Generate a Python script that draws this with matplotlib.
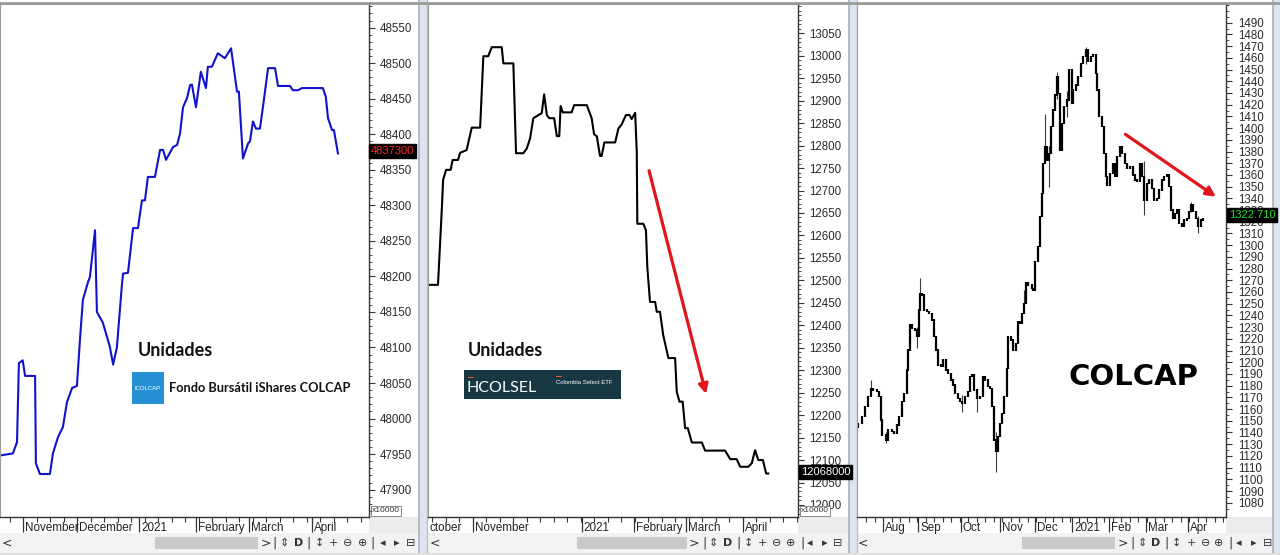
import matplotlib
matplotlib.use("Agg")
import matplotlib.pyplot as plt
import numpy as np
from matplotlib.patches import Rectangle, FancyArrowPatch
from matplotlib.transforms import offset_copy

plt.rcParams['font.family'] = ['Liberation Sans', 'DejaVu Sans']

# ---------------- data ----------------
# Panel 1: Fondo Bursatil iShares COLCAP (units, x10000) vs trading day
fund_day = [0, 4.8, 6.3, 7.0, 8.4, 9.3, 13.0, 13.3, 14.8, 18.5,
            19.6, 21.5, 23.3, 24.8, 26.7, 28.5, 29.6, 30.7, 32.6, 33.3,
            35.2, 35.9, 38.1, 40.7, 41.9, 43.3, 45.2, 45.6, 47.4, 49.3,
            51.1, 52.6, 53.7, 54.8, 57.4, 59.3, 60.4, 61.5, 64.1, 65.6,
            66.7, 67.8, 69.3, 70.4, 71.1, 72.6, 74.4, 76.3, 77.0, 78.5,
            80.7, 83.3, 85.6, 87.8, 88.5, 90.0, 91.9, 92.6, 93.7, 94.8,
            96.3, 97.4, 99.3, 101.9, 103.0, 107.4, 108.5, 110.4, 111.9, 119.6,
            120.7, 121.5, 123.0, 123.7, 125.2]
fund_units = [47948, 47951, 47967, 48078, 48082, 48060, 48060, 47937, 47922, 47922,
              47951, 47974, 47988, 48023, 48043, 48046, 48110, 48167, 48192, 48199,
              48265, 48150, 48135, 48101, 48076, 48100, 48190, 48204, 48205, 48268,
              48268, 48307, 48307, 48340, 48340, 48378, 48378, 48364, 48382, 48385,
              48401, 48438, 48451, 48469, 48470, 48438, 48488, 48465, 48495, 48495,
              48514, 48507, 48521, 48460, 48460, 48366, 48387, 48390, 48418, 48408,
              48408, 48438, 48493, 48493, 48468, 48468, 48462, 48462, 48465, 48465,
              48453, 48423, 48406, 48406, 48373]
fund_months = ["November", "December", "2021", "February", "March", "April"]
fund_month_day = [8.6, 28.6, 51.6, 72.6, 92.3, 115.4]
fund_last = "4837300"

# Panel 2: HCOLSEL (units, x10000)
etf_day = [0, 3.7, 5.1, 5.6, 6.7, 8.4, 9.1, 11.1, 11.9, 14.3,
           16.2, 19.3, 20.5, 22.3, 23.6, 27.3, 27.9, 31.6, 32.6, 35.3,
           36.6, 37.8, 39.0, 40.9, 42.1, 43.0, 44.0, 44.9, 46.7, 47.7,
           48.6, 49.1, 49.9, 53.2, 54.1, 58.8, 60.6, 61.5, 62.5, 63.7,
           64.3, 65.3, 69.3, 70.5, 71.7, 73.3, 74.6, 75.4, 76.7, 77.3,
           77.5, 79.7, 80.7, 81.2, 82.2, 84.1, 84.7, 85.9, 87.1, 89.0,
           91.5, 92.1, 93.1, 94.3, 95.2, 96.2, 97.7, 101.4, 102.6, 110.0,
           111.9, 114.3, 115.6, 118.6, 119.9, 121.1, 122.3, 124.0, 125.2, 126.0]
etf_units = [12490, 12490, 12657, 12724, 12746, 12746, 12768, 12768, 12784, 12790,
             12840, 12840, 12999, 12999, 13019, 13019, 12983, 12983, 12783, 12783,
             12794, 12816, 12861, 12868, 12872, 12914, 12868, 12861, 12861, 12821,
             12821, 12888, 12874, 12874, 12890, 12890, 12861, 12825, 12821, 12777,
             12777, 12807, 12807, 12838, 12847, 12868, 12868, 12859, 12873, 12786,
             12626, 12626, 12612, 12530, 12452, 12452, 12430, 12430, 12378, 12327,
             12327, 12252, 12230, 12230, 12171, 12171, 12139, 12139, 12121, 12121,
             12102, 12102, 12085, 12085, 12093, 12122, 12100, 12100, 12070, 12070]
etf_months = ["ctober", "November", "2021", "February", "March", "April"]
etf_month_day = [-1.0, 16.6, 56.9, 76.3, 95.4, 116.5]
etf_last = "12068000"
etf_arrow_start = (81.6, 12750)
etf_arrow_end = (103.2, 12241)

# Panel 3: COLCAP index daily candles
colcap_day = [0.8, 2.8, 4.7, 6.6, 8.2, 9.6, 11.6, 12.9, 14.1, 14.9,
              16.9, 18.4, 20.4, 21.9, 23.4, 24.7, 26.3, 27.8, 29.2, 30.2,
              31.2, 32.5, 34.1, 35.3, 36.5, 37.2, 38.4, 39.6, 41.0, 42.4,
              43.9, 45.1, 46.5, 47.8, 49.4, 50.8, 52.2, 53.7, 55.3, 56.6,
              57.6, 59.2, 60.6, 61.9, 63.5, 65.1, 66.5, 67.8, 69.0, 70.6,
              72.4, 73.9, 75.3, 76.9, 78.2, 79.6, 80.8, 81.6, 82.8, 84.1,
              85.5, 86.6, 88.1, 89.0, 90.4, 91.9, 93.4, 94.5, 95.9, 97.2,
              98.2, 99.4, 100.8, 102.8, 103.7, 104.7, 106.3, 107.6, 108.6, 109.6,
              110.6, 111.6, 112.9, 114.1, 115.5, 116.5, 117.5, 118.4, 119.4, 120.8,
              121.8, 123.4, 124.9, 126.3, 127.2, 128.8, 130.2, 131.6, 133.1, 134.7,
              136.1, 137.5, 139.0, 140.6, 141.4, 142.5, 143.9, 145.3, 146.5, 147.2,
              148.8, 150.4, 151.8, 153.1, 154.7, 156.1, 157.6, 159.0, 160.6, 162.2,
              163.5, 164.9, 166.5, 167.5, 168.8, 170.4, 171.9, 173.4, 174.7, 176.3,
              177.6, 179.2, 180.6, 182.2, 183.5, 184.5, 185.7, 187.1, 188.4, 189.6,
              191.0, 192.4, 193.9, 195.3, 196.6, 197.8, 199.4, 200.8, 202.2, 203.7]
colcap_close = [1147.8, 1153.5, 1162.0, 1170.5, 1177.7, 1176.3, 1174.8, 1170.5, 1150.6, 1137.8,
                1133.5, 1142.0, 1140.6, 1139.3, 1146.3, 1153.5, 1166.3, 1173.4, 1193.3, 1210.4,
                1231.8, 1228.9, 1227.5, 1221.8, 1244.6, 1258.9, 1257.4, 1244.6, 1243.1, 1241.8,
                1236.0, 1221.8, 1210.4, 1197.6, 1196.2, 1201.9, 1193.3, 1190.5, 1184.8, 1180.5,
                1173.4, 1169.2, 1166.3, 1164.9, 1170.5, 1174.8, 1187.6, 1189.0, 1176.3, 1169.2,
                1170.5, 1187.6, 1184.8, 1179.1, 1177.7, 1162.0, 1133.5, 1123.5, 1136.4, 1147.8,
                1156.4, 1170.5, 1194.8, 1221.8, 1219.0, 1210.4, 1216.1, 1234.6, 1233.2, 1241.8,
                1250.3, 1268.0, 1266.0, 1263.1, 1261.7, 1285.8, 1298.7, 1324.3, 1344.3, 1369.9,
                1384.1, 1372.7, 1378.4, 1401.2, 1415.4, 1428.2, 1443.9, 1429.7, 1381.3, 1404.1,
                1418.3, 1424.0, 1449.6, 1421.2, 1432.5, 1436.8, 1443.9, 1455.3, 1461.0, 1466.7,
                1456.7, 1461.0, 1462.4, 1446.8, 1432.5, 1409.8, 1401.2, 1378.4, 1358.5, 1351.4,
                1361.4, 1369.9, 1358.5, 1375.5, 1384.1, 1378.4, 1369.9, 1365.6, 1367.0, 1359.9,
                1355.6, 1354.2, 1369.9, 1358.5, 1338.6, 1352.8, 1355.6, 1348.5, 1338.6, 1340.0,
                1347.1, 1355.6, 1358.5, 1359.9, 1349.9, 1330.0, 1322.9, 1327.2, 1330.0, 1318.6,
                1315.8, 1321.5, 1322.9, 1328.6, 1334.3, 1328.6, 1322.9, 1315.8, 1321.5, 1322.7]
colcap_first_open = 1144.0
colcap_wick_day = [8.2, 16.9, 35.3, 37.2, 61.9, 70.6, 81.6, 98.2, 110.6, 112.9,
                   117.5, 123.4, 134.7, 168.8, 196.6, 200.8]
colcap_wick_low = [1175.0, 1130.7, 1212.0, 1255.0, 1157.7, 1157.7, 1106.5, 1250.0, 1372.0, 1350.0,
                   1425.0, 1409.7, 1455.0, 1325.7, 1328.0, 1310.1]
colcap_wick_high = [1184.6, 1140.0, 1230.0, 1271.7, 1172.0, 1177.0, 1140.0, 1262.0, 1411.8, 1385.0,
                    1448.2, 1432.0, 1469.0, 1372.0, 1337.0, 1325.0]
colcap_months = ["Aug", "Sep", "Oct", "Nov", "Dec", "2021", "Feb", "Mar", "Apr"]
colcap_month_day = [15.5, 36.1, 61.0, 84.1, 104.7, 126.6, 148.2, 169.8, 194.9]
colcap_last = "1322.710"
colcap_arrow_start = (156.5, 1396)
colcap_arrow_end = (212.4, 1340)

# ---------------- figure ----------------
W, H = 1280, 555
fig = plt.figure(figsize=(12.8, 5.55), dpi=100)
fig.patch.set_facecolor('white')

bg = fig.add_axes([0, 0, 1, 1])
bg.set_xlim(0, W)
bg.set_ylim(H, 0)
bg.axis('off')


def rect(x0, y0, x1, y1, color, **kw):
    bg.add_patch(Rectangle((x0, y0), x1 - x0, y1 - y0, facecolor=color,
                           edgecolor=kw.pop('ec', 'none'), lw=kw.pop('lw', 0), **kw))


# panel frames: (left of plot, right of plot/axis, right of panel)
panels = [(0, 369, 418), (428, 798, 848), (857, 1226, 1272)]
for (pl, pr, pe) in panels:
    rect(pr, 517, pe, 533, '#ececec')          # corner below y labels
    rect(pl, 533, pe, 553, '#f2f2f2')          # scroll bar row
# separators
for sx in (418, 848, 1272):
    rect(sx, 0, sx + 10 if sx < 1272 else 1280, 555, '#dde4ee')
    bg.plot([sx + 1, sx + 1], [0, 555], color='#a9b3c2', lw=1.2)
    if sx < 1272:
        bg.plot([sx + 9, sx + 9], [0, 555], color='#b8c1ce', lw=1.0)
bg.plot([0, 1280], [2.5, 2.5], color='#9c9c9c', lw=2.0)
bg.plot([0, 1280], [554, 554], color='#e0e0e0', lw=1.5)

# scroll bars + toolbar glyphs
thumbs = [(155, 258), (577, 687), (1022, 1115)]
tool_x = [
    [7, 266, 275, 284, 299, 309, 319, 333, 348, 363, 373, 383, 397, 411],
    [435, 694, 705, 713, 728, 738, 748, 762, 777, 791, 802, 810, 825, 838],
    [863, 1123, 1133, 1142, 1156, 1167, 1176, 1191, 1206, 1219, 1230, 1239, 1254, 1268],
]
glyphs = ['<', '>', '|', '⇕', 'D', '|', '↕', '+', '⊖', '⊕', '|', '◂', '▸', '⊟']
for (t0, t1), xs in zip(thumbs, tool_x):
    rect(t0, 537, t1, 549, '#c9c9c9')
    for gx, g in zip(xs, glyphs):
        fs = 9 if g in '<>|' else 8
        bg.text(gx, 543, g, ha='center', va='center', fontsize=fs,
                color='#333333', family=['DejaVu Sans'],
                fontweight='bold' if g == 'D' else 'normal')

PLOT_TOP, PLOT_BOT = 4, 517


def make_axes(px0, px1):
    return fig.add_axes([px0 / W, 1 - PLOT_BOT / H, (px1 - px0) / W, (PLOT_BOT - PLOT_TOP) / H])


def style_axes(ax, xlim, ylim, ymajor, yminor, xminor, months, month_days):
    ax.set_xlim(*xlim)
    ax.set_ylim(*ylim)
    ax.set_facecolor('white')
    for s in ('left', 'top'):
        ax.spines[s].set_color('#9a9a9a')
        ax.spines[s].set_linewidth(0.8)
    for s in ('right', 'bottom'):
        ax.spines[s].set_color('#333333')
        ax.spines[s].set_linewidth(1.0)
    ax.yaxis.tick_right()
    ax.set_yticks(ymajor)
    ax.set_yticks(yminor, minor=True)
    ax.set_yticklabels([str(v) for v in ymajor])
    ax.tick_params(axis='y', which='major', direction='out', length=4, width=0.8,
                   color='#333333', labelsize=8.3, labelcolor='#2a2a2a', pad=4)
    ax.tick_params(axis='y', which='minor', direction='out', length=2.5, width=0.6,
                   color='#333333')
    # x: weekly small ticks + month separators
    seps = [d for d in month_days if xlim[0] <= d <= xlim[1]]
    ax.set_xticks(seps)
    ax.set_xticklabels([])
    ax.set_xticks(xminor, minor=True)
    ax.tick_params(axis='x', which='major', direction='out', length=11, width=0.9,
                   color='#333333')
    ax.tick_params(axis='x', which='minor', direction='out', length=3.5, width=0.8,
                   color='#333333')
    tr = offset_copy(ax.get_xaxis_transform(), fig=fig, x=2, y=-5, units='dots')
    for d, m in zip(month_days, months):
        ax.text(max(d, xlim[0]), 0, m, transform=tr, ha='left', va='top',
                fontsize=8.4, color='#222222', clip_on=False)


# ---- panel 1 ----
ax1 = make_axes(0, 369)
ax1.plot(fund_day, fund_units, color='#1212cc', lw=1.5, solid_joinstyle='round')
style_axes(ax1, (0, 136.7), (47861.5, 48583.3),
           np.arange(47900, 48551, 50), np.arange(47870, 48581, 10),
           np.arange(3.6, 136, 5.0), fund_months, fund_month_day)

# ---- panel 2 ----
ax2 = make_axes(428, 798)
ax2.plot(etf_day, etf_units, color='black', lw=1.5)
style_axes(ax2, (0, 137.0), (11973.2, 13115.2),
           np.arange(12000, 13051, 50), np.arange(11980, 13111, 10),
           np.arange(1.6, 137, 5.0), etf_months, etf_month_day)
ax2.add_patch(FancyArrowPatch(etf_arrow_start, etf_arrow_end, arrowstyle='-|>',
                              mutation_scale=14, lw=2.3, color='#e3161d'))

# ---- panel 3 ----
ax3 = make_axes(857, 1226)
opens = [colcap_first_open] + colcap_close[:-1]
lo = np.minimum(opens, colcap_close)
hi = np.maximum(opens, colcap_close)
ax3.vlines(colcap_wick_day, colcap_wick_low, colcap_wick_high, color='#3a3a3a', lw=0.8)
ax3.vlines(colcap_day, lo - 0.6, hi + 0.6, color='black', lw=1.6)
style_axes(ax3, (0, 217.0), (1067.8, 1506.0),
           np.arange(1080, 1491, 10), np.arange(1075, 1506, 5),
           np.arange(5.5, 217, 5.0), colcap_months, colcap_month_day)
ax3.tick_params(axis='y', which='major', labelsize=8.3, pad=5)
ax3.add_patch(FancyArrowPatch(colcap_arrow_start, colcap_arrow_end, arrowstyle='-|>',
                              mutation_scale=14, lw=2.3, color='#e3161d', clip_on=False))

# ---- last value boxes ----
def value_box(px, py, txt, fg):
    return fig.text(px / W, 1 - py / H, txt, ha='left', va='center', fontsize=8,
                    color=fg, family=['Liberation Sans'],
                    bbox=dict(boxstyle='square,pad=0.15', fc='black', ec='black'))

value_box(371, 151, fund_last, '#ff2424')
value_box(801, 472, etf_last, '#ffffff')
value_box(1229, 215, colcap_last, '#22dd22')

for x0 in (371, 800):
    fig.text((x0 + 1) / W, 1 - 511 / H, 'x10000', ha='left', va='center', fontsize=6,
             color='#333333',
             bbox=dict(boxstyle='square,pad=0.15', fc='white', ec='#777777', lw=0.6))

# ---- annotations ----
fig.text(138 / W, 1 - 351 / H, 'Unidades', ha='left', va='center', fontsize=13,
         fontweight='bold', family=['Lato', 'DejaVu Sans'], color='#111111')
fig.text(468 / W, 1 - 351 / H, 'Unidades', ha='left', va='center', fontsize=13,
         fontweight='bold', family=['Lato', 'DejaVu Sans'], color='#111111')

# iShares COLCAP logo
fig.patches.append(Rectangle((132 / W, 1 - 404 / H), 32 / W, 32 / H, transform=fig.transFigure,
                             facecolor='#2590d4', edgecolor='none'))
fig.text(148 / W, 1 - 388 / H, 'ICOLCAP', ha='center', va='center', fontsize=4.3,
         color='white', family=['Liberation Sans'])
fig.text(169 / W, 1 - 388 / H, 'Fondo Bursátil iShares COLCAP', ha='left', va='center',
         fontsize=9.2, fontweight='bold', family=['Lato', 'DejaVu Sans'], color='#111111')

# HCOLSEL logo
fig.patches.append(Rectangle((464 / W, 1 - 399 / H), 157 / W, 29 / H, transform=fig.transFigure,
                             facecolor='#173842', edgecolor='none'))
fig.patches.append(Rectangle((468 / W, 1 - 378 / H), 6 / W, 1.5 / H, transform=fig.transFigure,
                             facecolor='#e8562a', edgecolor='none'))
fig.patches.append(Rectangle((556 / W, 1 - 377 / H), 6 / W, 1.2 / H, transform=fig.transFigure,
                             facecolor='#e8562a', edgecolor='none'))
fig.text(467 / W, 1 - 388 / H, 'HCOLSEL', ha='left', va='center', fontsize=11.5,
         color='white', family=['Lato', 'DejaVu Sans'])
fig.text(556 / W, 1 - 383 / H, 'Colombia Select ETF', ha='left', va='center', fontsize=4.3,
         color='white', family=['Liberation Sans'])

# COLCAP title
fig.text(1068 / W, 1 - 377 / H, 'COLCAP', ha='left', va='center', fontsize=21,
         fontweight='bold', family=['DejaVu Sans'], color='black')

fig.savefig('out.png', dpi=100, facecolor='white')
